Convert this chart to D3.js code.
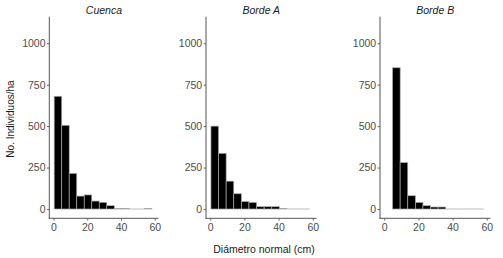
<!DOCTYPE html>
<html>
<head>
<meta charset="utf-8">
<script src="https://cdn.jsdelivr.net/npm/d3@7"></script>
<style>
  html, body { margin: 0; padding: 0; background: #fff; }
  svg { display: block; font-family: "Liberation Sans", Arial, sans-serif; }
</style>
</head>
<body>
<svg id="chart" width="503" height="258"></svg>
<script>
// ---- data ----
const panels = ["Cuenca", "Borde A", "Borde B"];
const binEdges = [0.4, 4.85, 9.3, 13.75, 18.2, 22.65, 27.1, 31.55, 36.0, 40.45, 44.9, 49.35, 53.8, 58.25];
const cuenca = [680, 505, 215, 78, 85, 48, 40, 20, 4, 4, 0, 0, 4];
const bordeA = [500, 336, 168, 92, 45, 40, 14, 14, 14, 4, 0, 0, 0];
const bordeB = [null, 852, 280, 80, 40, 20, 12, 12, 0, 0, 0, 0, 0];
const seriesValues = [cuenca, bordeA, bordeB];
const xTicks = [0, 20, 40, 60];
const yTicks = [0, 250, 500, 750, 1000];
const yLabel = "No. Individuos/ha";
const xLabel = "Diámetro normal (cm)";

// ---- layout ----
const svg = d3.select("#chart");
const panelRanges = [[49.3, 158.5], [206, 316.5], [380, 490.5]];
const yRange = [218.3, 16.7];
const xDomain = [-2.5, 62.2];
const yDomain = [-56, 1160];
const axisColor = "#555";
const tickTextColor = "#4d4d4d";
const barStroke = "#a8a8a8";

panels.forEach((name, i) => {
  const x = d3.scaleLinear().domain(xDomain).range(panelRanges[i]);
  const y = d3.scaleLinear().domain(yDomain).range(yRange);
  const g = svg.append("g");

  // bars
  const bins = seriesValues[i].map((v, j) => ({ x0: binEdges[j], x1: binEdges[j + 1], v }))
    .filter(d => d.v !== null);
  g.selectAll("rect.bar").data(bins.filter(d => d.v > 0)).enter().append("rect")
    .attr("class", "bar")
    .attr("x", d => x(d.x0))
    .attr("width", d => x(d.x1) - x(d.x0))
    .attr("y", d => y(d.v))
    .attr("height", d => y(0) - y(d.v))
    .attr("fill", "#000")
    .attr("stroke", barStroke)
    .attr("stroke-width", 0.7);
  // zero-count bins drawn as outline only
  g.selectAll("line.zero").data(bins.filter(d => d.v === 0)).enter().append("line")
    .attr("class", "zero")
    .attr("x1", d => x(d.x0))
    .attr("x2", d => x(d.x1))
    .attr("y1", y(0))
    .attr("y2", y(0))
    .attr("stroke", "#bdbdbd")
    .attr("stroke-width", 1);

  // y axis
  const yAxis = d3.axisLeft(y).tickValues(yTicks).tickFormat(d3.format("d")).tickSize(2.3).tickPadding(1.5);
  const ya = g.append("g").attr("transform", `translate(${panelRanges[i][0]},0)`).call(yAxis);
  // x axis
  const xAxis = d3.axisBottom(x).tickValues(xTicks).tickFormat(d3.format("d")).tickSize(2.3).tickPadding(2.5);
  const xa = g.append("g").attr("transform", `translate(0,${yRange[0]})`).call(xAxis);

  [ya, xa].forEach(a => {
    a.select(".domain").remove();
    a.selectAll(".tick line").attr("stroke", axisColor).attr("stroke-width", 0.9);
    a.selectAll(".tick text").attr("fill", tickTextColor)
      .style("font-size", "10.5px").style("font-family", "'Liberation Sans', Arial, sans-serif");
  });
  g.append("line").attr("x1", panelRanges[i][0]).attr("x2", panelRanges[i][0])
    .attr("y1", yRange[1]).attr("y2", yRange[0] + 0.5)
    .attr("stroke", axisColor).attr("stroke-width", 1);
  g.append("line").attr("x1", panelRanges[i][0] - 0.5).attr("x2", panelRanges[i][1])
    .attr("y1", yRange[0]).attr("y2", yRange[0])
    .attr("stroke", axisColor).attr("stroke-width", 1);

  // title
  g.append("text")
    .attr("x", (panelRanges[i][0] + panelRanges[i][1]) / 2)
    .attr("y", 14)
    .attr("text-anchor", "middle")
    .style("font-style", "italic")
    .style("font-size", "10.5px")
    .attr("fill", "#1a1a1a")
    .text(name);
});

// axis titles
svg.append("text")
  .attr("transform", "translate(14.3,119) rotate(-90)")
  .attr("text-anchor", "middle")
  .style("font-size", "10px")
  .attr("fill", "#1a1a1a")
  .text(yLabel);

svg.append("text")
  .attr("x", 264)
  .attr("y", 253)
  .attr("text-anchor", "middle")
  .style("font-size", "10.5px")
  .attr("fill", "#1a1a1a")
  .text(xLabel);
</script>
</body>
</html>
